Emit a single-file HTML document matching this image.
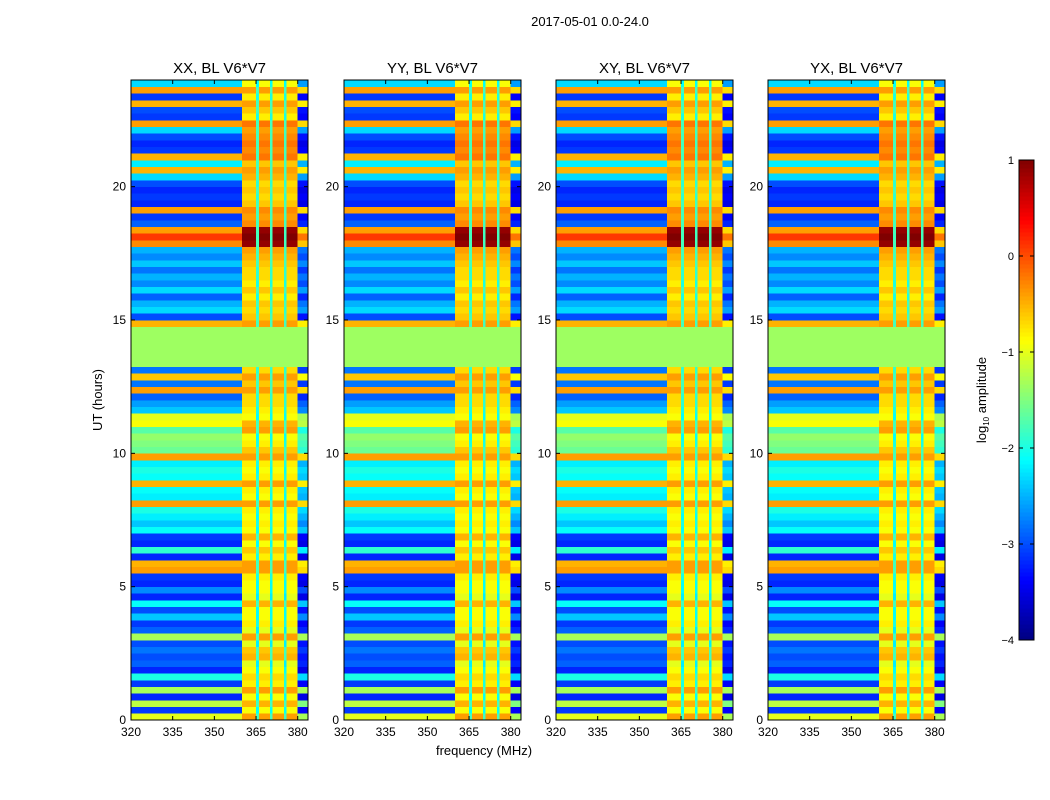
<!DOCTYPE html>
<html><head><meta charset="utf-8">
<style>
html,body{margin:0;padding:0;background:#fff;}
svg{display:block;font-family:"Liberation Sans",sans-serif;}
</style></head>
<body>
<svg id="chart" width="1050" height="800" viewBox="0 0 1050 800">
<text x="590" y="26" font-size="13" text-anchor="middle">2017-05-01 0.0-24.0</text>
<text x="484" y="755" font-size="13" text-anchor="middle">frequency (MHz)</text>
<text transform="translate(102,400) rotate(-90)" font-size="13" text-anchor="middle">UT (hours)</text>
<g id="panels"></g>
<g id="cbar"></g>
</svg>
<script>
const panelTitles = ["XX, BL V6*V7","YY, BL V6*V7","XY, BL V6*V7","YX, BL V6*V7"];
const panelLeft = [131,344,556,768];
const xTicks = [320,335,350,365,380];
const yTicks = [0,5,10,15,20];
const cbTicks = [1,0,-1,-2,-3,-4];
// log10 amplitude per 0.25h row, low-frequency region (320-360 MHz)
const lowLevel = [
-1.0,-3.1,-1.2,-3.2, -1.3,-3.1,-2.0,-3.2, -2.9,-3.0,-2.8,-3.0, -1.3,-2.9,-3.1,-2.4,
-3.0,-2.1,-3.2,-2.7, -3.2,-3.1,-0.4,-0.5, -3.2,-1.9,-3.2,-3.1, -2.1,-2.4,-2.2,-2.0,
-0.4,-2.2,-2.1,-0.5, -2.1,-2.0,-2.2,-0.4, -1.6,-1.5,-1.4,-1.7, -0.9,-1.0,-2.4,-2.6,
-2.9,-0.4,-2.8,-0.6, -2.8,-1.35,-1.35,-1.35, -1.35,-1.35,-1.35,-0.5, -3.0,-2.3,-2.5,-2.9,
-2.3,-2.7,-2.5,-2.8, -2.4,-2.7,-2.5,-0.3, 0.1,-0.4,-2.9,-3.1, -0.4,-3.2,-3.1,-3.2,
-3.0,-2.3,-0.5,-2.2, -0.5,-3.1,-3.2,-3.0, -2.3,-0.4,-3.1,-3.0, -0.5,-3.1,-0.4,-2.3];
// log10 amplitude per 0.25h row, high-frequency region (360-380 MHz)
const highLevel = [
-0.4,-0.9,-0.5,-0.9, -0.4,-0.8,-0.7,-0.9, -1.0,-0.5,-0.6,-1.0, -0.4,-1.0,-0.8,-0.9,
-0.9,-0.5,-1.0,-0.9, -0.9,-0.8,-0.4,-0.4, -0.8,-0.6,-0.9,-0.5, -0.9,-0.8,-0.9,-0.8,
-0.4,-0.9,-0.8,-0.4, -0.8,-0.9,-0.8,-0.4, -0.6,-0.8,-0.9,-0.4, -0.5,-0.9,-0.8,-0.7,
-0.7,-0.4,-0.6,-0.4, -0.7,-1.35,-1.35,-1.35, -1.35,-1.35,-1.35,-0.4, -0.6,-0.7,-0.6,-0.8,
-0.6,-0.8,-0.7,-0.7, -0.6,-0.5,-0.4,0.9, 1.0,0.9,-0.3,-0.4, -0.3,-0.6,-0.7,-0.6,
-0.7,-0.5,-0.4,-0.6, -0.2,-0.3,-0.2,-0.3, -0.4,-0.2,-0.8,-0.6, -0.4,-0.8,-0.4,-0.9];
// 1 MHz channel kinds 320..383: 0 low band, 1 high band, 2 gap stripe, 3 upper edge
const chanKind = [
0,0,0,0,0,0,0,0,0,0, 0,0,0,0,0,0,0,0,0,0, 0,0,0,0,0,0,0,0,0,0, 0,0,0,0,0,0,0,0,0,0,
1,1,1,1,1,2,1,1,1,1, 2,1,1,1,1,2,1,1,1,1, 3,3,3,3];

const NS='http://www.w3.org/2000/svg';
const fMin=320,fMax=383.7,tMin=0,tMax=24,pW=177,pTop=80,pH=640;
function xs(f,left){return left+(f-fMin)/(fMax-fMin)*pW;}
function ys(t){return pTop+pH-(t-tMin)/(tMax-tMin)*pH;}
function cl(v){return Math.max(0,Math.min(1,v));}
function jet(v){const t=cl((v+4)/5);
 const r=cl(1.5-Math.abs(4*t-3)),g=cl(1.5-Math.abs(4*t-2)),b=cl(1.5-Math.abs(4*t-1));
 return 'rgb('+Math.round(r*255)+','+Math.round(g*255)+','+Math.round(b*255)+')';}
function cellVal(i,k){
 if(k===0) return lowLevel[i];
 if(k===1) return highLevel[i];
 if(k===2) return highLevel[i]<=-1.3?highLevel[i]:Math.min(highLevel[i]-1.2,-1.8);
 return lowLevel[i]<=-1.3&&lowLevel[i]>-1.4?lowLevel[i]:lowLevel[i]-0.3;}
function mk(tag,attrs,parent){const e=document.createElementNS(NS,tag);for(const a in attrs)e.setAttribute(a,attrs[a]);parent.appendChild(e);return e;}

const panels=document.getElementById('panels');
panelLeft.forEach((left,p)=>{
 const g=mk('g',{},panels);
 
 
 const hm=mk('g',{'shape-rendering':'crispEdges'},g);
 
 
 const dt=(tMax-tMin)/lowLevel.length;
 for(let i=0;i<lowLevel.length;i++){
  const y0=ys((i+1)*dt),y1=ys(i*dt);
  let j=0;
  while(j<chanKind.length){
   const v=cellVal(i,chanKind[j]);let k=j+1;
   while(k<chanKind.length&&cellVal(i,chanKind[k])===v)k++;
   const x0=xs(fMin+j,left),x1=Math.min(xs(fMin+k,left),left+pW);
   const r=mk('rect',{x:x0,y:y0,width:x1-x0+0.3,height:y1-y0+0.3,fill:jet(v)},hm);
   
   
   j=k;
  }
 }
 const fr=mk('rect',{x:left,y:pTop,width:pW,height:pH,fill:'none',stroke:'#000','stroke-width':1},g);
 
 
 xTicks.forEach(f=>{const x=xs(f,left);
  mk('line',{x1:x,x2:x,y1:pTop+pH,y2:pTop+pH-4,stroke:'#000'},g);
  mk('line',{x1:x,x2:x,y1:pTop,y2:pTop+4,stroke:'#000'},g);
  const t=mk('text',{x:x,y:pTop+pH+16,'font-size':12,'text-anchor':'middle'},g);
  t.textContent=f;
  
  });
 yTicks.forEach(v=>{const y=ys(v);
  mk('line',{x1:left,x2:left+4,y1:y,y2:y,stroke:'#000'},g);
  mk('line',{x1:left+pW,x2:left+pW-4,y1:y,y2:y,stroke:'#000'},g);
  const t=mk('text',{x:left-5,y:y+4,'font-size':12,'text-anchor':'end'},g);
  t.textContent=v;
  
  });
 const tt=mk('text',{x:left+pW/2,y:73,'font-size':15,'text-anchor':'middle'},g);
 tt.textContent=panelTitles[p];
 
 
});

// colorbar
const cb=document.getElementById('cbar');


const cbX=1019,cbW=15,cbTop=160,cbH=480,vMin=-4,vMax=1;
function cy(v){return cbTop+(vMax-v)/(vMax-vMin)*cbH;}
for(let s=0;s<120;s++){
 const v0=vMin+s*(vMax-vMin)/120,v1=vMin+(s+1)*(vMax-vMin)/120;
 mk('rect',{x:cbX,y:cy(v1),width:cbW,height:cy(v0)-cy(v1)+0.5,fill:jet((v0+v1)/2),'shape-rendering':'crispEdges'},cb);
}
mk('rect',{x:cbX,y:cbTop,width:cbW,height:cbH,fill:'none',stroke:'#000'},cb);
cbTicks.forEach(v=>{const y=cy(v);
 mk('line',{x1:cbX,x2:cbX+4,y1:y,y2:y,stroke:'#000'},cb);
 mk('line',{x1:cbX+cbW,x2:cbX+cbW-4,y1:y,y2:y,stroke:'#000'},cb);
 const t=mk('text',{x:cbX-5,y:y+4,'font-size':11,'text-anchor':'end'},cb);
 t.textContent=(v<0?'\u2212'+(-v):v);
 
 });
const cl2=mk('text',{transform:'translate(986,400) rotate(-90)','font-size':13,'text-anchor':'middle'},cb);
cl2.innerHTML='log<tspan font-size="8" dy="3">10</tspan><tspan dy="-3"> amplitude</tspan>';


</script>
</body></html>
